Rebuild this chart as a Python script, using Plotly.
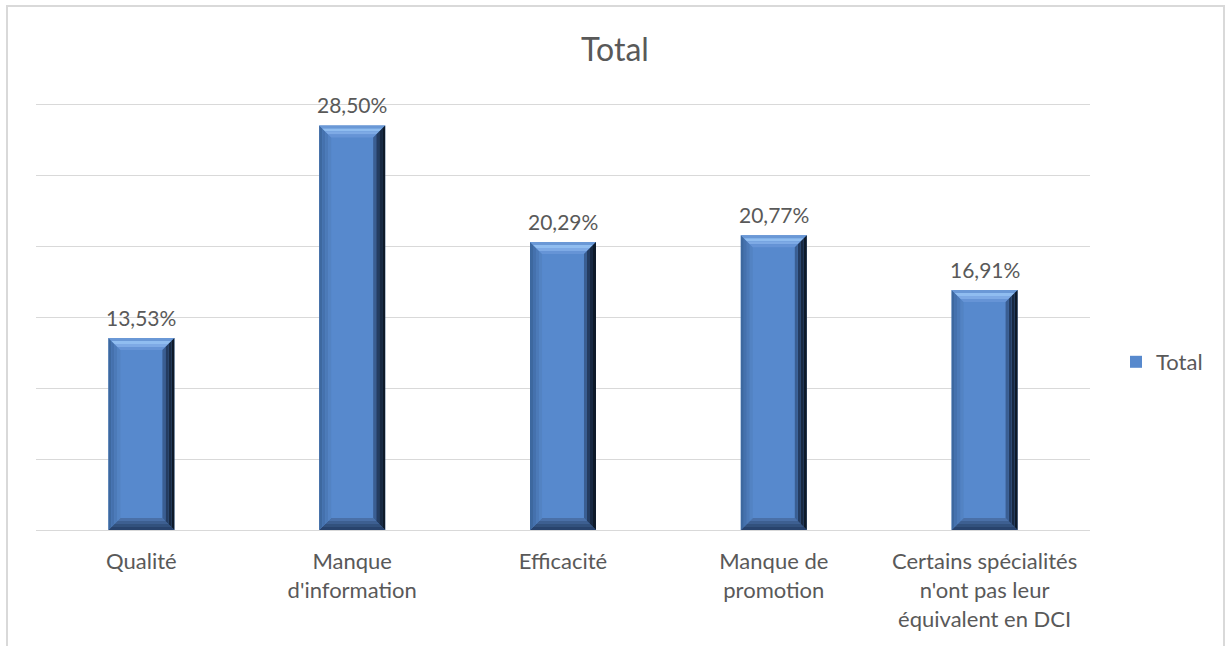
import plotly.graph_objects as go

# ---- data ----
categories = [
    "Qualité",
    "Manque<br>d'information",
    "Efficacité",
    "Manque de<br>promotion",
    "Certains spécialités<br>n'ont pas leur<br>équivalent en DCI",
]
values = [13.53, 28.50, 20.29, 20.77, 16.91]
series_name = "Total"
y_grid = [0, 5, 10, 15, 20, 25, 30]

# ---- layout constants ----
W, H = 1228, 646
ML, MR, MB = 36, 138, 116
Y_TOP = 30            # top gridline value, sits at pixel row 104
Y_PAD = 0.5           # a little headroom so the top gridline is drawn
BAR_W = 0.313
FONT = "Lato"
TXT = "#595959"
GRID = "#d9d9d9"
FACE = "#5789cd"

n = len(categories)
xs = list(range(n))
plot_w = W - ML - MR
grid_h = (H - MB) - 104          # pixels from 0 to Y_TOP
uy = Y_TOP / grid_h              # y units per pixel
MT = int(round(104 - Y_PAD / uy))
plot_h = H - MT - MB
ux = n / plot_w                  # x units per pixel

# bevel depth in pixels, split into graded bands
BEVEL_PX = 12
bands = 4
side_colors = {
    "top":    ["#6a98d6", "#90bdf0", "#7eaae5", "#6694d6"],
    "right":  ["#0e1a29", "#182942", "#243c61", "#3a5e92"],
    "bottom": ["#28436d", "#32517d", "#3d5f91", "#4a70a8"],
    "left":   ["#3d689f", "#4571ad", "#4c7ab8", "#5383c3"],
}


def band_poly(side, c, v, t0, t1):
    """Polygon between inset t0 and t1 (pixels) on one side of a bar."""
    h = BAR_W / 2
    x0, x1 = c - h, c + h
    a0x, a0y = t0 * ux, t0 * uy
    a1x, a1y = t1 * ux, t1 * uy
    if side == "top":
        return [(x0 + a0x, v - a0y), (x1 - a0x, v - a0y),
                (x1 - a1x, v - a1y), (x0 + a1x, v - a1y)]
    if side == "bottom":
        return [(x0 + a0x, a0y), (x1 - a0x, a0y),
                (x1 - a1x, a1y), (x0 + a1x, a1y)]
    if side == "left":
        return [(x0 + a0x, a0y), (x0 + a0x, v - a0y),
                (x0 + a1x, v - a1y), (x0 + a1x, a1y)]
    return [(x1 - a0x, a0y), (x1 - a0x, v - a0y),
            (x1 - a1x, v - a1y), (x1 - a1x, a1y)]


fig = go.Figure()

# main bars
fig.add_trace(go.Bar(
    x=xs, y=values, width=BAR_W, name=series_name,
    marker=dict(color=FACE, line=dict(width=0)),
    showlegend=True, hoverinfo="skip",
))

# bevel bands drawn on top of each bar
step = BEVEL_PX / bands
for side in ["bottom", "left", "top", "right"]:
    for b in range(bands):
        px_, py_ = [], []
        for c, v in zip(xs, values):
            pts = band_poly(side, c, v, b * step, (b + 1) * step)
            pts.append(pts[0])
            px_ += [p[0] for p in pts] + [None]
            py_ += [p[1] for p in pts] + [None]
        fig.add_trace(go.Scatter(
            x=px_, y=py_, mode="lines", fill="toself",
            fillcolor=side_colors[side][b], line=dict(width=0),
            showlegend=False, hoverinfo="skip",
        ))

# value labels
for c, v in zip(xs, values):
    fig.add_annotation(
        x=c, y=v, xref="x", yref="y",
        text=f"{v:.2f}".replace(".", ",") + "%",
        showarrow=False, yanchor="bottom", yshift=6,
        font=dict(family=FONT, size=21, color=TXT),
    )

# chart border
fig.add_shape(
    type="rect", xref="paper", yref="paper",
    x0=(7 - ML) / plot_w, x1=(1224 - ML) / plot_w,
    y0=(H - MB - 700) / plot_h, y1=(H - MB - 6) / plot_h,
    line=dict(color=GRID, width=2), fillcolor="rgba(0,0,0,0)", layer="below",
)

fig.update_layout(
    width=W, height=H,
    margin=dict(l=ML, r=MR, t=MT, b=MB, pad=0),
    paper_bgcolor="white", plot_bgcolor="white",
    font=dict(family=FONT, color=TXT, size=21),
    title=dict(text="Total", x=615 / W, xanchor="center", xref="container",
               y=1 - 50 / H, yanchor="middle", yref="container",
               font=dict(family=FONT, size=32, color=TXT)),
    showlegend=True,
    legend=dict(xref="container", yref="container", x=1116 / W, xanchor="left",
                y=1 - 362 / H, yanchor="middle",
                font=dict(family=FONT, size=22, color=TXT),
                bgcolor="rgba(0,0,0,0)", borderwidth=0, itemwidth=30),
    xaxis=dict(range=[-0.5, n - 0.5], tickvals=xs, ticktext=categories,
               showgrid=False, zeroline=False, showline=True, linecolor=GRID,
               linewidth=1, ticks="", ticklabelstandoff=12,
               tickfont=dict(family=FONT, size=22, color=TXT),
               fixedrange=True),
    yaxis=dict(range=[0, Y_TOP + Y_PAD], tickvals=y_grid, showticklabels=False,
               showgrid=True, gridcolor=GRID, gridwidth=1, zeroline=False,
               ticks="", fixedrange=True),
    hovermode=False,
)

fig.write_html("out.html")
